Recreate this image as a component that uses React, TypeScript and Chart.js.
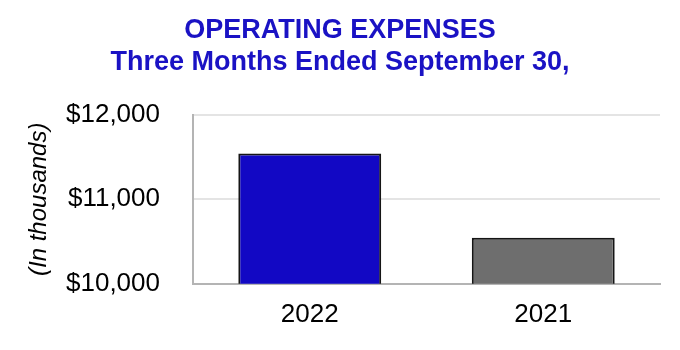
import React, { useEffect, useRef } from "react";
import { Chart, registerables } from "chart.js";

Chart.register(...registerables);

const categories = ["2022", "2021"];
const values = [11542, 10544];
const barColors = ["#1208c4", "#6e6e6e"];
const yTicks = [10000, 11000, 12000];
const titleLines = ["OPERATING EXPENSES", "Three Months Ended September 30,"];
const FONT = "'Liberation Sans', Arial, sans-serif";

export default function App() {
  const ref = useRef<HTMLCanvasElement>(null);
  useEffect(() => {
    const chart = new Chart(ref.current!, {
      type: "bar",
      data: {
        labels: categories,
        datasets: [
          {
            data: values,
            backgroundColor: barColors,
            borderColor: "#151515",
            borderWidth: 2,
            categoryPercentage: 1,
            barPercentage: 0.612,
          },
        ],
      },
      options: {
        animation: false,
        responsive: false,
        maintainAspectRatio: false,
        layout: { padding: { left: 20, right: 20, top: 14, bottom: 5 } },
        plugins: {
          legend: { display: false },
          tooltip: { enabled: false },
          title: {
            display: true,
            text: titleLines,
            color: "#1a12c4",
            font: { family: FONT, size: 27, weight: "bold", lineHeight: 1.2 },
            padding: { top: 0, bottom: 36 },
          },
        },
        scales: {
          x: {
            grid: { display: false, drawTicks: false },
            border: { display: true, color: "#b4b4b4", width: 2 },
            ticks: {
              color: "#000",
              padding: 15,
              font: { family: FONT, size: 26 },
            },
          },
          y: {
            min: 10000,
            max: 12000,
            afterBuildTicks: (axis: any) => {
              axis.ticks = yTicks.map((v) => ({ value: v }));
            },
            afterFit: (axis: any) => {
              axis.width = 173;
            },
            grid: { color: "#e4e4e4", lineWidth: 2, drawTicks: false },
            border: { display: true, color: "#b4b4b4", width: 2 },
            ticks: {
              color: "#000",
              padding: 33,
              font: { family: FONT, size: 26 },
              callback: (v: any) => "$" + Number(v).toLocaleString("en-US"),
            },
            title: {
              display: true,
              text: "(In thousands)",
              color: "#000",
              padding: { top: 5, bottom: 10 },
              font: { family: FONT, size: 24, style: "italic" },
            },
          },
        },
      },
    });
    return () => chart.destroy();
  }, []);
  return (
    <div style={{ position: "absolute", left: 0, top: 0, width: 680, height: 350, background: "#fff" }}>
      <canvas ref={ref} width={680} height={350} />
    </div>
  );
}
